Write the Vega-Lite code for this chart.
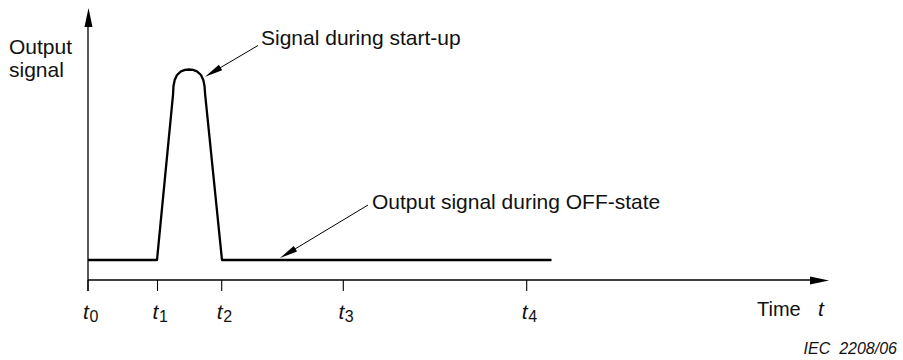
{
  "$schema": "https://vega.github.io/schema/vega-lite/v6.json",
  "width": 903,
  "height": 360,
  "autosize": "none",
  "padding": 0,
  "background": "white",
  "config": {"view": {"stroke": null}, "text": {"font": "Liberation Sans", "color": "#111"}},
  "datasets": {
    "signal": [
      {"i": 0, "t": 0, "s": 2},
      {"i": 1, "t": 6.9, "s": 2},
      {"i": 2, "t": 8.5, "s": 18.5},
      {"i": 3, "t": 8.55, "s": 19.4},
      {"i": 4, "t": 8.67, "s": 20},
      {"i": 5, "t": 8.9, "s": 20.5},
      {"i": 6, "t": 9.3, "s": 20.87},
      {"i": 7, "t": 9.7, "s": 21.02},
      {"i": 8, "t": 10.1, "s": 21.05},
      {"i": 9, "t": 10.5, "s": 21.02},
      {"i": 10, "t": 10.9, "s": 20.87},
      {"i": 11, "t": 11.3, "s": 20.5},
      {"i": 12, "t": 11.53, "s": 20},
      {"i": 13, "t": 11.65, "s": 19.4},
      {"i": 14, "t": 11.72, "s": 18.5},
      {"i": 15, "t": 13.4, "s": 2},
      {"i": 16, "t": 46.35, "s": 2}
    ],
    "axes": [
      {"t": 0, "s": -1.1, "t2": 0, "s2": 25.3},
      {"t": 0, "s": 0, "t2": 72.4, "s2": 0}
    ],
    "ticks": [
      {"t": 0, "name": "t", "sub": "0"},
      {"t": 6.95, "name": "t", "sub": "1"},
      {"t": 13.37, "name": "t", "sub": "2"},
      {"t": 25.53, "name": "t", "sub": "3"},
      {"t": 43.87, "name": "t", "sub": "4"}
    ],
    "axisheads": [
      {"t": 0.05, "s": 26.25, "angle": 0},
      {"t": 73.15, "s": -0.05, "angle": 90}
    ],
    "pointers": [
      {"t": 17.0, "s": 23.45, "t2": 12.48, "s2": 20.79, "angle": 239.5},
      {"t": 28.0, "s": 7.5, "t2": 19.97, "s2": 2.66, "angle": 239}
    ],
    "labels": [
      {"t": -7.9, "s": 22.6, "text": "Output"},
      {"t": -7.9, "s": 20.3, "text": "signal"},
      {"t": 17.3, "s": 23.5, "text": "Signal during start-up"},
      {"t": 28.4, "s": 7.1, "text": "Output signal during OFF-state"}
    ]
  },
  "resolve": {"scale": {"x": "shared", "y": "shared"}},
  "layer": [
    {
      "data": {"name": "axes"},
      "mark": {"type": "rule", "color": "black", "strokeWidth": 1.3},
      "encoding": {
        "x": {"field": "t", "type": "quantitative", "scale": {"domain": [-8.8, 81.5], "nice": false, "zero": false}, "axis": null},
        "y": {"field": "s", "type": "quantitative", "scale": {"domain": [-8, 28], "nice": false, "zero": false}, "axis": null},
        "x2": {"field": "t2"},
        "y2": {"field": "s2"}
      }
    },
    {
      "data": {"name": "ticks"},
      "mark": {"type": "rule", "color": "black", "strokeWidth": 1.1},
      "encoding": {
        "x": {"field": "t", "type": "quantitative", "axis": null},
        "y": {"datum": 0, "type": "quantitative", "axis": null},
        "y2": {"datum": -1.1}
      }
    },
    {
      "data": {"name": "axisheads"},
      "mark": {"type": "point", "filled": true, "opacity": 1, "color": "black", "shape": "M0,-1L0.42,1L-0.42,1Z", "size": 361},
      "encoding": {
        "x": {"field": "t", "type": "quantitative", "axis": null},
        "y": {"field": "s", "type": "quantitative", "axis": null},
        "angle": {"field": "angle", "type": "quantitative", "scale": null}
      }
    },
    {
      "data": {"name": "signal"},
      "mark": {"type": "line", "color": "black", "strokeWidth": 2.3, "strokeJoin": "round"},
      "encoding": {
        "x": {"field": "t", "type": "quantitative", "axis": null},
        "y": {"field": "s", "type": "quantitative", "axis": null},
        "order": {"field": "i", "type": "quantitative"}
      }
    },
    {
      "data": {"name": "pointers"},
      "mark": {"type": "rule", "color": "black", "strokeWidth": 1},
      "encoding": {
        "x": {"field": "t", "type": "quantitative", "axis": null},
        "y": {"field": "s", "type": "quantitative", "axis": null},
        "x2": {"field": "t2"},
        "y2": {"field": "s2"}
      }
    },
    {
      "data": {"name": "pointers"},
      "mark": {"type": "point", "filled": true, "opacity": 1, "color": "black", "shape": "M0,-1L0.36,1L-0.36,1Z", "size": 324},
      "encoding": {
        "x": {"field": "t2", "type": "quantitative", "axis": null},
        "y": {"field": "s2", "type": "quantitative", "axis": null},
        "angle": {"field": "angle", "type": "quantitative", "scale": null}
      }
    },
    {
      "data": {"name": "labels"},
      "mark": {"type": "text", "align": "left", "baseline": "alphabetic", "fontSize": 21},
      "encoding": {
        "x": {"field": "t", "type": "quantitative", "axis": null},
        "y": {"field": "s", "type": "quantitative", "axis": null},
        "text": {"field": "text"}
      }
    },
    {
      "data": {"name": "ticks"},
      "mark": {"type": "text", "align": "center", "baseline": "alphabetic", "fontSize": 21, "fontStyle": "italic", "dx": -2},
      "encoding": {
        "x": {"field": "t", "type": "quantitative", "axis": null},
        "y": {"datum": -3.9, "type": "quantitative", "axis": null},
        "text": {"field": "name"}
      }
    },
    {
      "data": {"name": "ticks"},
      "mark": {"type": "text", "align": "left", "baseline": "alphabetic", "fontSize": 16, "dx": 1.5},
      "encoding": {
        "x": {"field": "t", "type": "quantitative", "axis": null},
        "y": {"datum": -4.23, "type": "quantitative", "axis": null},
        "text": {"field": "sub"}
      }
    },
    {
      "data": {"values": [{"t": 66.9, "s": -3.57, "text": "Time"}]},
      "mark": {"type": "text", "align": "left", "baseline": "alphabetic", "fontSize": 20},
      "encoding": {
        "x": {"field": "t", "type": "quantitative", "axis": null},
        "y": {"field": "s", "type": "quantitative", "axis": null},
        "text": {"field": "text"}
      }
    },
    {
      "data": {"values": [{"t": 73.0, "s": -3.57, "text": "t"}]},
      "mark": {"type": "text", "align": "left", "baseline": "alphabetic", "fontSize": 21, "fontStyle": "italic"},
      "encoding": {
        "x": {"field": "t", "type": "quantitative", "axis": null},
        "y": {"field": "s", "type": "quantitative", "axis": null},
        "text": {"field": "text"}
      }
    },
    {
      "data": {"values": [{"t": 80.9, "s": -7.4, "text": "IEC\u00a0\u00a02208/06"}]},
      "mark": {"type": "text", "align": "right", "baseline": "alphabetic", "fontSize": 16, "fontStyle": "italic"},
      "encoding": {
        "x": {"field": "t", "type": "quantitative", "axis": null},
        "y": {"field": "s", "type": "quantitative", "axis": null},
        "text": {"field": "text"}
      }
    }
  ]
}
